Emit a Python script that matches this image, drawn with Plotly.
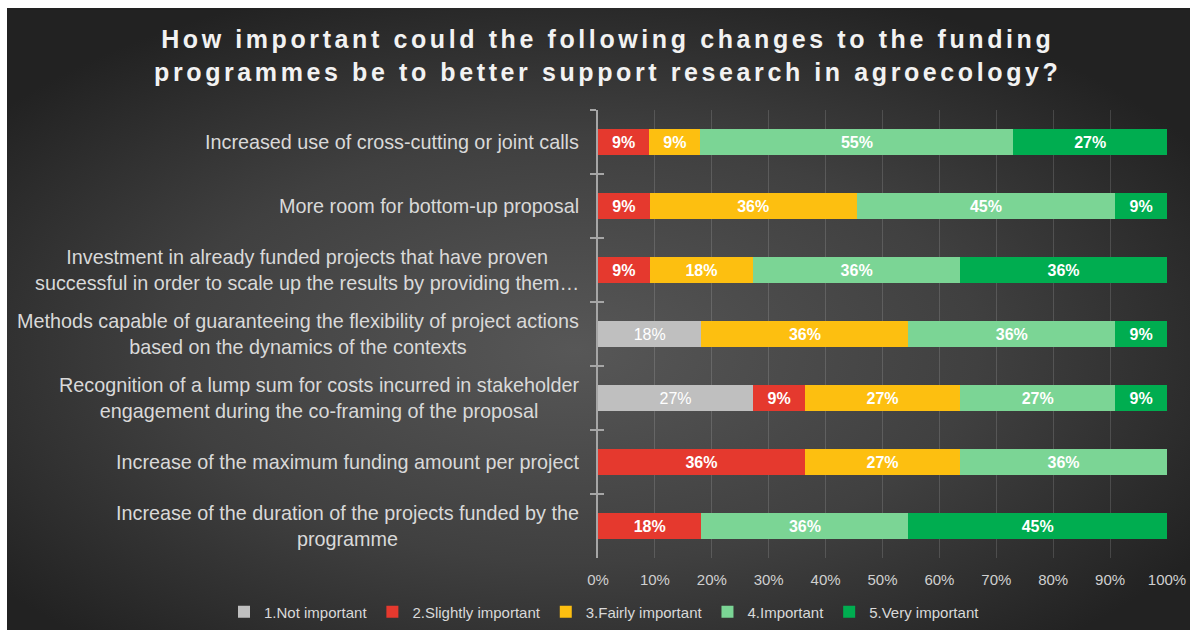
import base64
import plotly.graph_objects as go

# Survey items, listed top to bottom as they appear on the chart
items = [
    "Increased use of cross-cutting or joint calls",
    "More room for bottom-up proposal",
    "Investment in already funded projects that have proven<br>successful in order to scale up the results by providing them…",
    "Methods capable of guaranteeing the flexibility of project actions<br>based on the dynamics of the contexts",
    "Recognition of a lump sum for costs incurred in stakeholder<br>engagement during the co-framing of the proposal",
    "Increase of the maximum funding amount per project",
    "Increase of the duration of the projects funded by the<br>programme",
]

# Share of respondents (%) per importance level, one list per level
not_important = [0, 0, 0, 18, 27, 0, 0]
slightly_important = [9, 9, 9, 0, 9, 36, 18]
fairly_important = [9, 36, 18, 36, 27, 27, 0]
important = [55, 45, 36, 36, 27, 36, 36]
very_important = [27, 9, 36, 9, 9, 0, 45]

levels = [
    ("1.Not important", not_important, "#bfbfbf", "normal"),
    ("2.Slightly important", slightly_important, "#e5392e", "bold"),
    ("3.Fairly important", fairly_important, "#fdbf10", "bold"),
    ("4.Important", important, "#7bd595", "bold"),
    ("5.Very important", very_important, "#00ad50", "bold"),
]

x_ticks = list(range(0, 101, 10))
x_tick_labels = [f"{v}%" for v in x_ticks]

FONT = "Liberation Sans, Arial, sans-serif"
W, H = 1194, 632
ML, MR, MT, MB = 598, 27, 110, 74
PW, PH = W - ML - MR, H - MT - MB

fig = go.Figure()
for name, vals, color, weight in levels:
    fig.add_trace(go.Bar(
        y=items,
        x=vals,
        name=name,
        orientation="h",
        marker=dict(color=color, line=dict(width=0)),
        text=[f"{v}%" if v else "" for v in vals],
        texttemplate="%{text}",
        textposition="inside",
        insidetextanchor="middle",
        textangle=0,
        textfont=dict(color="white", size=16, family=FONT, weight=weight),
        hoverinfo="skip",
    ))

# inner half of the category tick marks on the value axis
fig.add_trace(go.Scatter(
    x=[0] * len(items), y=items, yaxis="y2", mode="none",
    showlegend=False, hoverinfo="skip",
))

# dark backdrop with a soft radial light in the middle
svg = (
    '<svg xmlns="http://www.w3.org/2000/svg" width="1183" height="622" viewBox="0 0 1183 622">'
    '<defs><radialGradient id="g" cx="48%" cy="55%" r="62%" fx="48%" fy="55%">'
    '<stop offset="0%" stop-color="#575757"/>'
    '<stop offset="55%" stop-color="#404040"/>'
    '<stop offset="100%" stop-color="#222222"/>'
    '</radialGradient></defs>'
    '<rect width="1183" height="622" fill="url(#g)"/></svg>'
)
bg_src = "data:image/svg+xml;base64," + base64.b64encode(svg.encode()).decode()
bx0, bx1, by0, by1 = 7, 1190, 8, 630
fig.add_layout_image(
    source=bg_src, xref="paper", yref="paper",
    x=(bx0 - ML) / PW, y=(H - MB - by0) / PH,
    sizex=(bx1 - bx0) / PW, sizey=(by1 - by0) / PH,
    xanchor="left", yanchor="top", sizing="stretch", layer="below",
)

# category labels, centred line by line and set just left of the axis
for it in items:
    fig.add_annotation(
        x=0, xref="paper", y=it, yref="y", text=it, showarrow=False,
        xanchor="right", yanchor="middle", align="center", xshift=-17,
        font=dict(size=19.8, color="#d9d9d9", family=FONT),
    )

title_txt = ('<span style="letter-spacing:3.6px">How important could the following changes to the funding<br>'
             'programmes be to better support research in agroecology?</span>')

fig.update_layout(
    width=W, height=H,
    margin=dict(l=ML, r=MR, t=MT, b=MB, autoexpand=False),
    paper_bgcolor="white",
    plot_bgcolor="rgba(0,0,0,0)",
    barmode="stack",
    barnorm="percent",
    bargap=0.59,
    title=dict(
        text=title_txt, x=0.509, xanchor="center", y=0.924, yanchor="middle",
        font=dict(size=25, color="#f2f2f2", family=FONT, weight="bold"),
    ),
    xaxis=dict(
        range=[0, 100], tickvals=x_ticks, ticktext=x_tick_labels,
        showgrid=True, gridcolor="rgba(255,255,255,0.14)", gridwidth=1,
        zeroline=False, showline=False, automargin=False,
        ticks="outside", ticklen=8, tickcolor="rgba(0,0,0,0)",
        tickfont=dict(size=15, color="#d0d0d0", family=FONT),
        fixedrange=True,
    ),
    yaxis=dict(
        type="category", categoryorder="array", categoryarray=items, autorange="reversed",
        showticklabels=False, showgrid=False, zeroline=False, automargin=False,
        showline=True, linecolor="#a6a6a6", linewidth=1.5,
        ticks="outside", tickson="boundaries", ticklen=6, tickcolor="#a6a6a6", tickwidth=1.5,
    ),
    yaxis2=dict(
        type="category", categoryorder="array", categoryarray=items, autorange="reversed",
        overlaying="y", side="left", anchor="x", matches="y", automargin=False,
        showticklabels=False, showgrid=False, zeroline=False, showline=False,
        ticks="inside", tickson="boundaries", ticklen=6, tickcolor="#a6a6a6", tickwidth=1.5,
    ),
    legend=dict(
        orientation="h", x=(224 - ML) / PW, xanchor="left", y=-0.1205, yanchor="middle",
        bgcolor="rgba(0,0,0,0)", traceorder="normal",
        font=dict(size=15, color="#d9d9d9", family=FONT),
        itemwidth=30,
    ),
    showlegend=True,
)

fig.write_html("out.html")
